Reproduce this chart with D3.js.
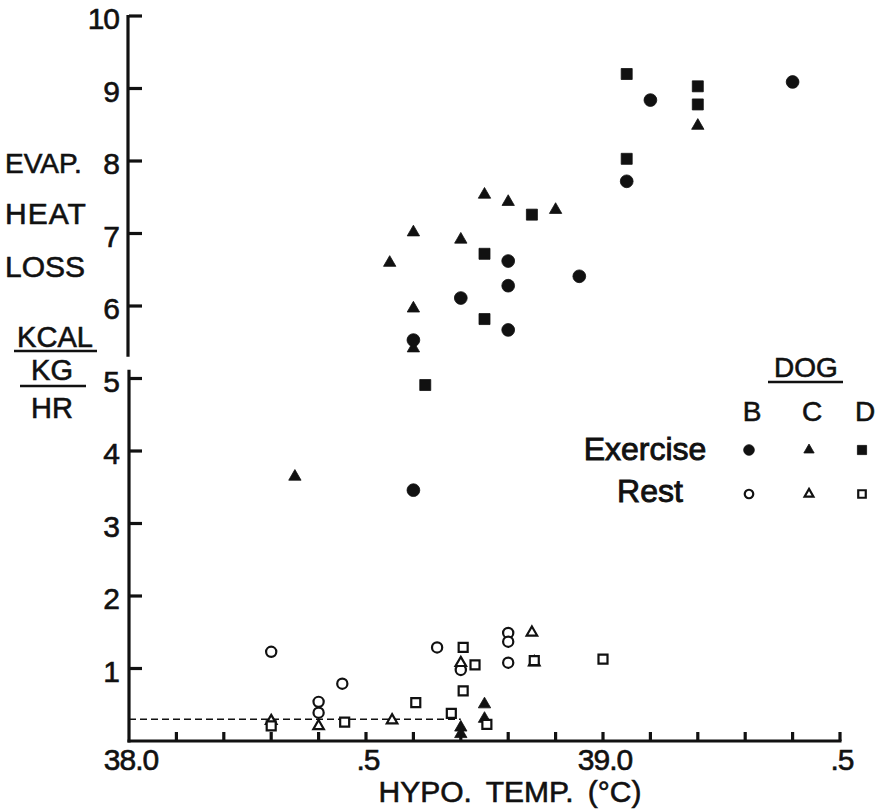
<!DOCTYPE html>
<html>
<head>
<meta charset="utf-8">
<script src="https://cdn.jsdelivr.net/npm/d3@7/dist/d3.min.js"></script>
<style>
  html, body { margin: 0; padding: 0; background: #fff; }
  svg { display: block; }
  text { font-family: "Liberation Sans", Arial, sans-serif; fill: #111; stroke: #111; stroke-width: 0.6px; }
</style>
</head>
<body>
<svg id="chart" width="885" height="810"></svg>
<script>
// ---------- DATA ----------
const xTickValues = [38.1, 38.2, 38.3, 38.4, 38.5, 38.6, 38.7, 38.8, 38.9, 39.0, 39.1, 39.2, 39.3, 39.4, 39.5];
const xTickLabelValues = [38.0, 38.5, 39.0, 39.5];
const xTickLabels = ["38.0", ".5", "39.0", ".5"];
const yTickValues = [1, 2, 3, 4, 5, 6, 7, 8, 9, 10];
const yTickLabels = ["1", "2", "3", "4", "5", "6", "7", "8", "9", "10"];

const dogs = ["B", "C", "D"];
const conditions = ["Exercise", "Rest"];

// Dog B, exercise (filled circles)
const bExerciseT = [39.10, 39.40, 39.05, 38.80, 38.95, 38.80, 38.70, 38.80, 38.60, 38.60];
const bExerciseV = [8.84, 9.09, 7.72, 6.62, 6.41, 6.28, 6.11, 5.67, 5.53, 3.46];
// Dog C, exercise (filled triangles)
const cExerciseT = [39.20, 38.75, 38.80, 38.90, 38.60, 38.70, 38.55, 38.60, 38.60, 38.35, 38.75, 38.75, 38.70, 38.70];
const cExerciseV = [8.50, 7.55, 7.45, 7.34, 7.03, 6.93, 6.61, 5.98, 5.43, 3.66, 0.52, 0.32, 0.20, 0.11];
// Dog D, exercise (filled squares)
const dExerciseT = [39.05, 39.20, 39.20, 39.05, 38.85, 38.75, 38.75, 38.625];
const dExerciseV = [9.20, 9.03, 8.78, 8.03, 7.26, 6.72, 5.82, 4.91];
// Dog B, rest (open circles)
const bRestT = [38.30, 38.45, 38.40, 38.40, 38.65, 38.70, 38.80, 38.80, 38.80];
const bRestV = [1.23, 0.79, 0.54, 0.39, 1.29, 0.98, 1.49, 1.37, 1.08];
// Dog C, rest (open triangles)
const cRestT = [38.30, 38.40, 38.555, 38.70, 38.85, 38.855];
const cRestV = [0.29, 0.22, 0.30, 1.09, 1.51, 1.10];
// Dog D, rest (open squares)
const dRestT = [38.30, 38.455, 38.605, 38.68, 38.705, 38.73, 38.705, 38.755, 38.855, 39.00];
const dRestV = [0.21, 0.26, 0.53, 0.38, 1.29, 1.05, 0.69, 0.23, 1.11, 1.13];

// Dashed resting baseline
const restLineT = [38.0, 38.70];
const restLineV = [0.30, 0.30];

// ---------- DRAWING ----------
const svg = d3.select("#chart");
const ink = "#111";

const x = d3.scaleLinear().domain([38.0, 39.5]).range([129, 840]);
const y = d3.scaleLinear().domain([0, 10]).range([741, 16]);

// Axes lines
const axisG = svg.append("g").attr("stroke", ink).attr("stroke-width", 3.2).attr("fill", "none");
// y-axis with a small break just above 5
axisG.append("line").attr("x1", x(38.0) - 1).attr("x2", x(38.0) - 1)
  .attr("y1", y(10) - 1).attr("y2", y(5.3));
axisG.append("line").attr("x1", x(38.0)).attr("x2", x(38.0))
  .attr("y1", y(5.12)).attr("y2", y(0) + 1.5);
// x-axis
axisG.append("line").attr("x1", x(38.0) - 1.5).attr("x2", x(39.5) + 1.5)
  .attr("y1", y(0)).attr("y2", y(0));

// y ticks (pointing right, inside)
axisG.selectAll(".ytick").data(yTickValues).enter().append("line")
  .attr("x1", x(38.0)).attr("x2", x(38.0) + 13)
  .attr("y1", d => y(d)).attr("y2", d => y(d));
// x ticks (pointing up)
axisG.selectAll(".xtick").data(xTickValues).enter().append("line")
  .attr("x1", d => x(d)).attr("x2", d => x(d))
  .attr("y1", y(0)).attr("y2", y(0) - 9);

// y tick labels
svg.append("g").selectAll("text").data(yTickValues).enter().append("text")
  .attr("x", 119).attr("y", d => y(d) + 13)
  .attr("text-anchor", "end")
  .attr("font-size", 30)
  .attr("letter-spacing", -1)
  .text((d, i) => yTickLabels[i]);

// x tick labels
svg.append("g").selectAll("text").data(xTickLabelValues).enter().append("text")
  .attr("x", d => x(d) + 2).attr("y", 770)
  .attr("text-anchor", "middle")
  .attr("font-size", 30)
  .attr("letter-spacing", -1)
  .text((d, i) => xTickLabels[i]);

// x-axis title
svg.append("text").attr("x", 510).attr("y", 802)
  .attr("text-anchor", "middle").attr("font-size", 30)
  .attr("word-spacing", 6)
  .text("HYPO. TEMP. (°C)");

// y-axis title (stacked words and a fraction)
const yt = svg.append("g");
yt.append("text").attr("x", 5).attr("y", 173).attr("font-size", 28).text("EVAP.");
yt.append("text").attr("x", 5).attr("y", 224).attr("font-size", 30).attr("letter-spacing", 1).text("HEAT");
yt.append("text").attr("x", 5).attr("y", 277).attr("font-size", 30).text("LOSS");
yt.append("text").attr("x", 55).attr("y", 347).attr("text-anchor", "middle").attr("font-size", 29).text("KCAL");
yt.append("line").attr("x1", 14).attr("x2", 97).attr("y1", 351).attr("y2", 351).attr("stroke", ink).attr("stroke-width", 2.5);
yt.append("text").attr("x", 52).attr("y", 380).attr("text-anchor", "middle").attr("font-size", 29).text("KG");
yt.append("line").attr("x1", 20).attr("x2", 86).attr("y1", 386).attr("y2", 386).attr("stroke", ink).attr("stroke-width", 2.5);
yt.append("text").attr("x", 52).attr("y", 418).attr("text-anchor", "middle").attr("font-size", 29).text("HR");

// Dashed line
svg.append("path")
  .datum(restLineT.map((t, i) => [t, restLineV[i]]))
  .attr("d", d3.line().x(d => x(d[0])).y(d => y(d[1])))
  .attr("fill", "none").attr("stroke", ink).attr("stroke-width", 1.6)
  .attr("stroke-dasharray", "7,4");

// Markers
const shapes = { B: d3.symbolCircle, C: d3.symbolTriangle, D: d3.symbolSquare };
const filledSize = { B: 128, C: 66, D: 121 };
const openSize = { B: 82, C: 48, D: 81 };

const series = [
  { dog: "B", cond: "Exercise", t: bExerciseT, v: bExerciseV },
  { dog: "C", cond: "Exercise", t: cExerciseT, v: cExerciseV },
  { dog: "D", cond: "Exercise", t: dExerciseT, v: dExerciseV },
  { dog: "B", cond: "Rest", t: bRestT, v: bRestV },
  { dog: "C", cond: "Rest", t: cRestT, v: cRestV },
  { dog: "D", cond: "Rest", t: dRestT, v: dRestV }
];

function drawMarker(sel, dog, cond, scale) {
  const filled = cond === "Exercise";
  const size = (filled ? filledSize[dog] : openSize[dog]) * scale;
  sel.attr("d", d3.symbol().type(shapes[dog]).size(size)())
    .attr("fill", filled ? ink : "#fff")
    .attr("stroke", ink)
    .attr("stroke-width", filled ? 0.8 : 2.2)
    .attr("stroke-linejoin", "miter");
}

series.forEach(s => {
  const pts = s.t.map((t, i) => [t, s.v[i]]);
  const yOff = s.dog === "C" ? 1 : 0;
  svg.append("g").selectAll("path").data(pts).enter().append("path")
    .attr("transform", d => `translate(${x(d[0])},${y(d[1]) + yOff})`)
    .call(sel => drawMarker(sel, s.dog, s.cond, 1));
});

// Legend
const lg = svg.append("g");
lg.append("text").attr("x", 806).attr("y", 377).attr("text-anchor", "middle").attr("font-size", 28).text("DOG");
lg.append("line").attr("x1", 768).attr("x2", 843).attr("y1", 382).attr("y2", 382).attr("stroke", ink).attr("stroke-width", 2.5);
const colX = [752, 812, 865];
dogs.forEach((d, i) => {
  lg.append("text").attr("x", colX[i]).attr("y", 421).attr("text-anchor", "middle").attr("font-size", 28).text(d);
});
const rowY = [450, 494];
const rowTextY = [460, 502];
const rowTextX = [645, 650];
conditions.forEach((c, r) => {
  lg.append("text").attr("x", rowTextX[r]).attr("y", rowTextY[r]).attr("text-anchor", "middle")
    .attr("font-size", 32).style("stroke-width", "0.9px").text(c);
  dogs.forEach((d, i) => {
    lg.append("path").attr("transform", `translate(${colX[i] - 3},${rowY[r]})`)
      .call(sel => drawMarker(sel, d, c, 0.7));
  });
});
</script>
</body>
</html>
